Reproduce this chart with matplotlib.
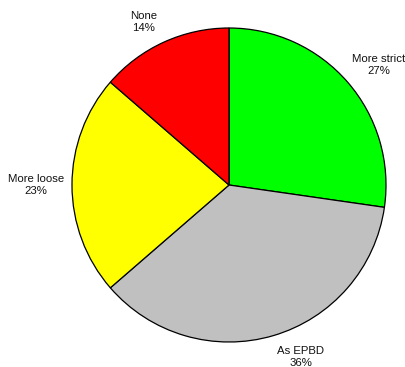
"""
Pie chart: share of answers relative to EPBD requirements
"""

import matplotlib.pyplot as plt

labels = ["More strict", "As EPBD", "More loose", "None"]
counts = [12, 16, 10, 6]
pct_labels = ["27%", "36%", "23%", "14%"]
colors = ["#00ff00", "#c0c0c0", "#ffff00", "#ff0000"]

# label anchor points (pixel coords, origin bottom-left)
label_xy = [(379, 302), (301, 10), (36, 182), (144, 345)]

W, H = 406, 367
fig = plt.figure(figsize=(W / 100, H / 100), dpi=100)
ax = fig.add_axes([0, 0, 1, 1])

ax.pie(
    counts,
    colors=colors,
    startangle=90,
    counterclock=False,
    center=(229, H - 185),
    radius=157,
    wedgeprops={"linewidth": 0.9, "edgecolor": "black"},
    frame=True,
)
ax.set_xlim(0, W)
ax.set_ylim(0, H)
ax.set_aspect("equal")
ax.axis("off")

for lab, pct, (x, y) in zip(labels, pct_labels, label_xy):
    ax.text(
        x, y, f"{lab}\n{pct}",
        ha="center", va="center",
        fontsize=8.2, family="Liberation Sans", color="#111111",
        linespacing=1.15,
    )

fig.savefig("out.png", dpi=100)
